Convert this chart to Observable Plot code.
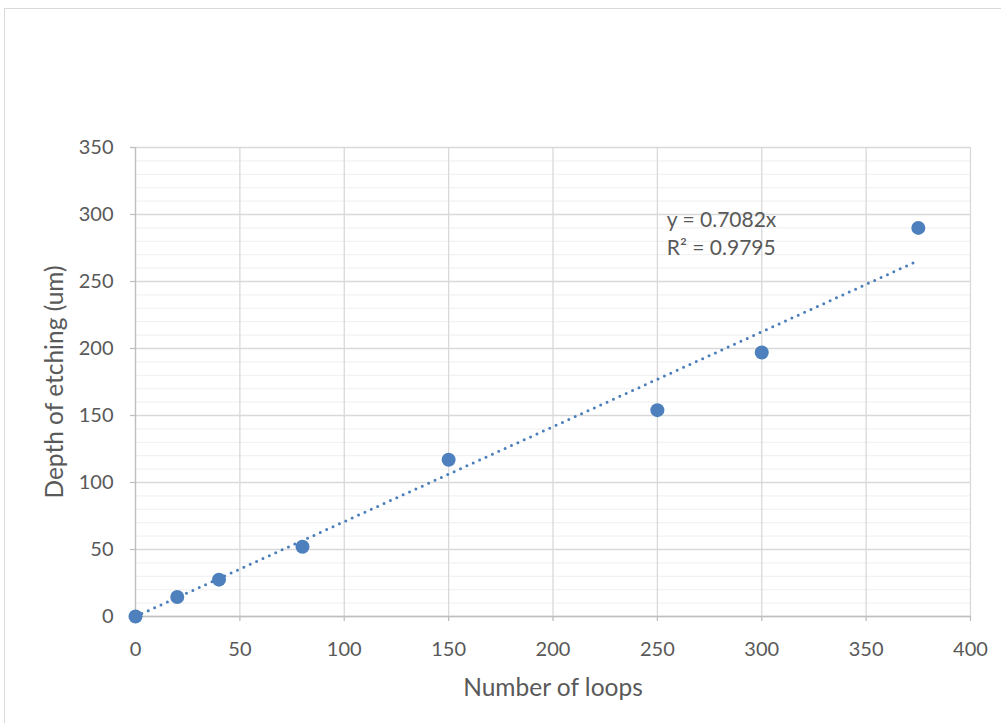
<!DOCTYPE html>
<html><head><meta charset="utf-8">
<script src="https://cdn.jsdelivr.net/npm/d3@7"></script>
<script src="https://cdn.jsdelivr.net/npm/@observablehq/plot@0.6"></script>
<style>
html,body{margin:0;padding:0;background:#fff;overflow:hidden;width:1001px;height:723px}
#frame{position:absolute;left:4px;top:8px;width:1100px;height:800px;border:1.5px solid #d9d9d9;box-sizing:border-box}
#chart{position:absolute;left:0;top:0}
</style></head>
<body><div id="frame"></div><div id="chart"></div>
<script>
const loops = [0, 20, 40, 80, 150, 250, 300, 375];
const depth = [0, 14.5, 27.5, 52, 117, 154, 197, 290];
const xTicks = [0, 50, 100, 150, 200, 250, 300, 350, 400];
const yTicks = [0, 50, 100, 150, 200, 250, 300, 350];
const yMinor = d3.range(0, 351, 10).filter(v => v % 50 !== 0);
const slope = 0.7082;
const trendX = [0, 375];
const eqLines = ["y = 0.7082x", "R² = 0.9795"];
const eqX = [254.5, 254.5];
const eqY = [295.5, 274.5];

const pts = loops.map((x, i) => ({x, y: depth[i]}));
const trend = trendX.map(x => ({x, y: slope * x}));
const eq = eqLines.map((t, i) => ({t, x: eqX[i], y: eqY[i]}));

const font = "Lato, 'Open Sans', sans-serif";
const txt = "#595959";

const chart = Plot.plot({
  width: 1001, height: 723,
  marginLeft: 135, marginRight: 31, marginTop: 147, marginBottom: 107,
  style: {fontFamily: font, fontSize: "20px", color: txt, background: "transparent"},
  x: {domain: [0, 400]},
  y: {domain: [0, 350]},
  marks: [
    Plot.gridY(yMinor, {stroke: "#f2f2f2", strokeOpacity: 1, strokeWidth: 1.3}),
    Plot.gridY(yTicks, {stroke: "#d9d9d9", strokeOpacity: 1, strokeWidth: 1.3}),
    Plot.gridX(xTicks, {stroke: "#d9d9d9", strokeOpacity: 1, strokeWidth: 1.3}),
    Plot.ruleY([0], {stroke: "#bfbfbf", strokeWidth: 1.3}),
    Plot.ruleX([0], {stroke: "#bfbfbf", strokeWidth: 1.3}),
    Plot.axisX(xTicks, {tickSize: 5, tickPadding: 20, stroke: "#bfbfbf", strokeWidth: 1.3, fill: txt, label: null, fontSize: 20}),
    Plot.axisY(yTicks, {tickSize: 5, tickPadding: 17, stroke: "#bfbfbf", strokeWidth: 1.3, fill: txt, label: null, fontSize: 20}),
    Plot.text(["Number of loops"], {frameAnchor: "bottom", dy: 72, fill: txt, fontSize: 24.5, lineAnchor: "middle", textAnchor: "middle"}),
    Plot.text(["Depth of etching (um)"], {frameAnchor: "left", dx: -80, rotate: -90, fill: txt, fontSize: 24.5, lineAnchor: "middle", textAnchor: "middle"}),
    Plot.line(trend, {x: "x", y: "y", stroke: "#4a7ebb", strokeWidth: 3, strokeDasharray: "0 7", strokeLinecap: "round"}),
    Plot.dot(pts, {x: "x", y: "y", r: 7, fill: "#4e80bd", stroke: "none"}),
    Plot.text(eq, {x: "x", y: "y", text: "t", textAnchor: "start", fill: txt, fontSize: 21, lineAnchor: "middle"})
  ]
});
document.getElementById("chart").appendChild(chart);
</script>
</body></html>
